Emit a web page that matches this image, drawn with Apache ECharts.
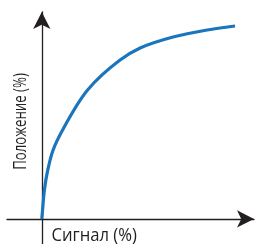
<!DOCTYPE html>
<html><head><meta charset="utf-8">
<script src="https://cdn.jsdelivr.net/npm/echarts@6/dist/echarts.min.js"></script>
<style>html,body{margin:0;padding:0;background:#fff}#c{width:255px;height:244px}</style>
</head><body><div id="c"></div>
<script>
const signal   = [0, 0.41, 1.35, 3.10, 5.85, 10.76, 23.69, 40.52, 50.87, 67.93, 85.52, 100];
const position = [0, 4.66, 15.03, 25.39, 35.75, 46.11, 66.84, 82.38, 88.60, 94.30, 97.93, 100];
const xLabel = 'Сигнал (%)';
const yLabel = 'Положение (%)';

const chart = echarts.init(document.getElementById('c'), null, {renderer: 'canvas'});
const font = '"Open Sans", "Noto Sans", sans-serif';

// centripetal Catmull-Rom through the data points, mapped with the chart's own scales
function renderCurve(params, api) {
  const P = signal.map((s, i) => api.coord([s, position[i]]));
  const n = P.length;
  const pts = [[2 * P[0][0] - P[1][0], 2 * P[0][1] - P[1][1]]].concat(P,
    [[2 * P[n - 1][0] - P[n - 2][0], 2 * P[n - 1][1] - P[n - 2][1]]]);
  const dist = (a, b) => Math.pow(Math.hypot(b[0] - a[0], b[1] - a[1]), 0.5);
  let d = 'M' + P[0][0] + ' ' + P[0][1];
  for (let i = 1; i < pts.length - 2; i++) {
    const p0 = pts[i - 1], p1 = pts[i], p2 = pts[i + 1], p3 = pts[i + 2];
    const d1 = dist(p0, p1), d2 = dist(p1, p2), d3 = dist(p2, p3);
    const c1 = [0, 1].map(k => (d1 * d1 * p2[k] - d2 * d2 * p0[k] + (2 * d1 * d1 + 3 * d1 * d2 + d2 * d2) * p1[k]) / (3 * d1 * (d1 + d2)));
    const c2 = [0, 1].map(k => (d3 * d3 * p1[k] - d2 * d2 * p3[k] + (2 * d3 * d3 + 3 * d3 * d2 + d2 * d2) * p2[k]) / (3 * d3 * (d3 + d2)));
    d += ' C' + c1[0] + ' ' + c1[1] + ' ' + c2[0] + ' ' + c2[1] + ' ' + p2[0] + ' ' + p2[1];
  }
  return {
    type: 'path',
    shape: {pathData: d},
    style: {fill: 'none', stroke: '#1b75bc', lineWidth: 3.2, lineCap: 'butt'}
  };
}

chart.setOption({
  animation: false,
  grid: {left: 7, right: 1, top: 12, bottom: 0, containLabel: false},
  xAxis: {
    type: 'value', min: -18, max: 109.8,
    axisLine: {show: true, onZero: true, symbol: ['none', 'arrow'], symbolSize: [13, 17],
      lineStyle: {color: '#231f20', width: 1.3}},
    axisTick: {show: false}, axisLabel: {show: false}, splitLine: {show: false}
  },
  yAxis: {
    type: 'value', min: -13, max: 107.25,
    axisLine: {show: true, onZero: true, symbol: ['none', 'arrow'], symbolSize: [13, 17],
      lineStyle: {color: '#231f20', width: 1.3}},
    axisTick: {show: false}, axisLabel: {show: false}, splitLine: {show: false}
  },
  series: [{
    type: 'custom', coordinateSystem: 'cartesian2d',
    data: [[signal[0], position[0]]],
    renderItem: renderCurve,
    clip: false
  }],
  graphic: [
    {type: 'text', x: 94.2, y: 236, scaleX: 0.9, style: {text: xLabel, font: '18.5px ' + font, fill: '#231f20', align: 'center', verticalAlign: 'middle'}},
    {type: 'text', x: 21, y: 121.5, rotation: Math.PI / 2, scaleX: 0.735, style: {text: yLabel, font: '18px ' + font, fill: '#231f20', align: 'center', verticalAlign: 'middle'}}
  ]
});
</script></body></html>
